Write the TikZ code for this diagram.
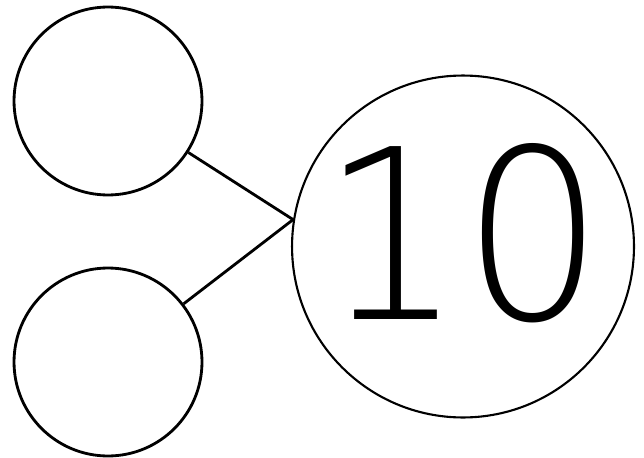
\documentclass[tikz,border=0pt]{standalone}
\usepackage{fontspec}
\newfontfamily\digitfont{DejaVu Sans ExtraLight}
\usetikzlibrary{positioning}
\begin{document}
\begin{tikzpicture}[x=0.02cm, y=0.02cm]
\useasboundingbox (0,0) rectangle (644,457);
\node (A) [draw, circle, minimum size=3.76cm, line width=1.6pt] at (108,356) {};
\node (B) [draw, circle, minimum size=3.76cm, line width=1.6pt] at (108,95) {};
\node (T) [draw, circle, minimum size=6.84cm, line width=1.2pt, inner sep=0pt, text depth=0.6cm, font=\digitfont\fontsize{135}{135}\selectfont] at (463,210.5) {\makebox[0pt]{\scalebox{0.94}[1]{10}}};
\draw[line width=1.6pt] (A) -- (T.171);
\draw[line width=1.6pt] (B) -- (T.171);
\end{tikzpicture}
\end{document}
